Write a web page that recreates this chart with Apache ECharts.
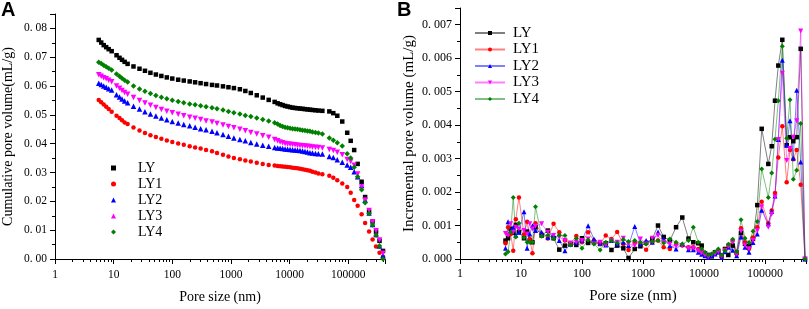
<!DOCTYPE html>
<html>
<head>
<meta charset="utf-8">
<script src="https://cdn.jsdelivr.net/npm/echarts@6/dist/echarts.min.js"></script>
<style>
  html, body { margin: 0; padding: 0; background: #fff; }
  #chart { width: 809px; height: 309px; }
</style>
</head>
<body>
<div id="chart"></div>
<script>
const seriesNames = ['LY', 'LY1', 'LY2', 'LY3', 'LY4'];

// panel A: cumulative pore volume (mL/g) against pore size (nm)
const poreSizeA = [5.57, 6.14, 6.77, 7.46, 8.23, 9.25, 11.2, 12.6, 13.9, 15.4, 17.3,
  21.8, 27.6, 34.2, 42.4, 52.5, 65.1, 80.7, 100, 126, 157, 198, 245, 304, 377, 476, 579, 732, 907,
  1124, 1421, 1761, 2183, 2759, 3486, 4406, 5569,
  6261, 6902, 7609, 8389, 9250, 10197, 11242, 12395, 13664, 15066, 16610, 18313, 20190, 22260, 24542, 27588, 31010, 36254,
  47643, 55686, 65111, 79129,
  96180, 110274, 126400, 144879, 169376, 194133, 226985, 260255, 298319, 341958, 391935];

const cumLY = [0.0760, 0.0751, 0.0742, 0.0735, 0.0728, 0.0721,
  0.0707, 0.0698, 0.0691, 0.0684, 0.0677,
  0.0668, 0.0660, 0.0653, 0.0646, 0.0640, 0.0635, 0.0630, 0.0626, 0.0622, 0.0619, 0.0616, 0.0613, 0.0610,
  0.0607, 0.0604, 0.0602, 0.0599, 0.0596, 0.0593, 0.0589, 0.0583, 0.0576, 0.0568, 0.0560, 0.0552, 0.0545,
  0.0540, 0.0537, 0.0534, 0.0531, 0.0529, 0.0527, 0.0525, 0.0524, 0.0523, 0.0522, 0.0521, 0.0520, 0.0519,
  0.0518, 0.0517, 0.0516, 0.0515, 0.0514,
  0.0512, 0.0506, 0.0497, 0.0477,
  0.0438, 0.0410, 0.0378, 0.0330, 0.0268, 0.0215, 0.0165, 0.0130, 0.0095, 0.0063, 0.0028];

const cumLY1 = [0.0552, 0.0544, 0.0536, 0.0528, 0.0520, 0.0511,
  0.0497, 0.0489, 0.0481, 0.0474, 0.0468,
  0.0456, 0.0446, 0.0437, 0.0429, 0.0423, 0.0417, 0.0411, 0.0406, 0.0401, 0.0396, 0.0391, 0.0387, 0.0383,
  0.0378, 0.0374, 0.0368, 0.0362, 0.0356, 0.0350, 0.0346, 0.0342, 0.0338, 0.0334, 0.0330, 0.0326, 0.0324,
  0.0323, 0.0322, 0.0321, 0.0320, 0.0319, 0.0318, 0.0317, 0.0316, 0.0315, 0.0313, 0.0311, 0.0310, 0.0308,
  0.0306, 0.0303, 0.0300, 0.0297, 0.0294,
  0.0289, 0.0282, 0.0273, 0.0262,
  0.0250, 0.0230, 0.0205, 0.0185, 0.0155, 0.0125, 0.0095, 0.0068, 0.0043, 0.0022, 0.0008];

const cumLY2 = [0.0610, 0.0605, 0.0600, 0.0596, 0.0591, 0.0586,
  0.0570, 0.0562, 0.0555, 0.0548, 0.0542,
  0.0530, 0.0520, 0.0511, 0.0503, 0.0496, 0.0489, 0.0483, 0.0477, 0.0472, 0.0467, 0.0462, 0.0457, 0.0452,
  0.0448, 0.0443, 0.0438, 0.0432, 0.0426, 0.0420, 0.0415, 0.0410, 0.0404, 0.0399, 0.0395, 0.0391, 0.0387,
  0.0385, 0.0384, 0.0383, 0.0382, 0.0381, 0.0380, 0.0379, 0.0378, 0.0377, 0.0376, 0.0375, 0.0373, 0.0371,
  0.0369, 0.0368, 0.0366, 0.0365, 0.0364,
  0.0356, 0.0352, 0.0344, 0.0336,
  0.0326, 0.0318, 0.0303, 0.0285, 0.0255, 0.0205, 0.0160, 0.0120, 0.0085, 0.0045, 0.0012];

const cumLY3 = [0.0639, 0.0634, 0.0629, 0.0625, 0.0620, 0.0615,
  0.0600, 0.0592, 0.0585, 0.0578, 0.0572,
  0.0560, 0.0550, 0.0541, 0.0533, 0.0526, 0.0519, 0.0513, 0.0507, 0.0502, 0.0497, 0.0492, 0.0488, 0.0484,
  0.0479, 0.0475, 0.0470, 0.0465, 0.0460, 0.0455, 0.0450, 0.0445, 0.0439, 0.0434, 0.0428, 0.0422, 0.0415,
  0.0410, 0.0406, 0.0403, 0.0401, 0.0399, 0.0398, 0.0397, 0.0396, 0.0395, 0.0394, 0.0393, 0.0392, 0.0391,
  0.0390, 0.0389, 0.0388, 0.0387, 0.0385,
  0.0380, 0.0376, 0.0370, 0.0362,
  0.0345, 0.0338, 0.0325, 0.0295, 0.0250, 0.0205, 0.0168, 0.0128, 0.0098, 0.0066, 0.0020];

const cumLY4 = [0.0683, 0.0678, 0.0672, 0.0667, 0.0662, 0.0656,
  0.0642, 0.0634, 0.0627, 0.0620, 0.0614,
  0.0600, 0.0590, 0.0582, 0.0574, 0.0567, 0.0561, 0.0556, 0.0551, 0.0546, 0.0542, 0.0538, 0.0535, 0.0532,
  0.0528, 0.0525, 0.0521, 0.0517, 0.0512, 0.0507, 0.0503, 0.0498, 0.0494, 0.0489, 0.0484, 0.0479, 0.0473,
  0.0468, 0.0463, 0.0460, 0.0457, 0.0455, 0.0454, 0.0452, 0.0451, 0.0450, 0.0448, 0.0447, 0.0446, 0.0444,
  0.0443, 0.0441, 0.0439, 0.0437, 0.0434,
  0.0420, 0.0412, 0.0403, 0.0392,
  0.0365, 0.0350, 0.0318, 0.0285, 0.0240, 0.0195, 0.0158, 0.0118, 0.0082, 0.0045, 0.0000];

// panel B: incremental pore volume (mL/g) against pore size (nm)
const poreSizeB = [5.57, 6.14, 6.77, 7.46, 8.23, 9.25, 11.2, 12.6, 13.9, 15.4, 17.3,
  21.8, 27.6, 34.2, 42.4, 52.5, 65.1, 80.7, 100, 126, 157, 198, 245, 304, 377, 476, 579, 732, 907,
  1124, 1421, 1761, 2183, 2759, 3486, 4406, 5569,
  6677, 8065, 9170, 10385, 11763, 13374, 15149, 17160, 19509, 22095, 25025, 29546, 34366,
  40430, 46990, 54660, 63580, 74790, 88300, 113270, 128780, 145880, 165200, 192130, 226830,
  256860, 291010, 330910, 384730, 452700];

const incLY = [0.00055, 0.00062, 0.00090, 0.00078, 0.00102, 0.00080, 0.00062, 0.00082, 0.00055, 0.00050, 0.00095,
  0.00070, 0.00085, 0.00062, 0.00028, 0.00040, 0.00044, 0.00042, 0.00062, 0.00048, 0.00050, 0.00045, 0.00047,
  0.00027, 0.00040, 0.00032, 0.00003, 0.00030, 0.00038, 0.00048, 0.00060, 0.00100, 0.00066, 0.00055, 0.00095,
  0.00124, 0.00061,
  0.00050, 0.00047, 0.00040, 0.00017, 0.00012, 0.00008, 0.00020, 0.00022, 0.00010, 0.00030, 0.00012, 0.00040, 0.00019,
  0.00078, 0.00045, 0.00038, 0.00060, 0.00161, 0.00389, 0.00284, 0.00337, 0.00473, 0.00578, 0.00655, 0.00340,
  0.00364, 0.00352, 0.00364, 0.00628, 0];

const incLY1 = [0.00047, 0.00095, 0.00075, 0.00025, 0.00119, 0.00184, 0.00073, 0.00111, 0.00060, 0.00017, 0.00107,
  0.00075, 0.00061, 0.00105, 0.00080, 0.00055, 0.00045, 0.00069, 0.00050, 0.00080, 0.00055, 0.00045, 0.00070,
  0.00060, 0.00081, 0.00045, 0.00027, 0.00050, 0.00045, 0.00028, 0.00050, 0.00055, 0.00035, 0.00030, 0.00045,
  0.00040, 0.00035,
  0.00035, 0.00030, 0.00022, 0.00015, 0.00008, 0.00012, 0.00018, 0.00025, 0.00006, 0.00028, 0.00040, 0.00055, 0.00015,
  0.00092, 0.00050, 0.00031, 0.00064, 0.00095, 0.00171, 0.00107, 0.00145, 0.00197, 0.00303, 0.00397, 0.00229,
  0.00326, 0.00298, 0.00326, 0.00222, 0];

const incLY2 = [0.00032, 0.00111, 0.00085, 0.00095, 0.00071, 0.00080, 0.00141, 0.00032, 0.00075, 0.00099, 0.00085,
  0.00080, 0.00065, 0.00072, 0.00055, 0.00025, 0.00045, 0.00050, 0.00055, 0.00099, 0.00060, 0.00048, 0.00042,
  0.00055, 0.00045, 0.00050, 0.00040, 0.00097, 0.00045, 0.00055, 0.00050, 0.00081, 0.00060, 0.00040, 0.00030,
  0.00045, 0.00028,
  0.00028, 0.00020, 0.00014, 0.00010, 0.00005, 0.00010, 0.00015, 0.00020, 0.00005, 0.00022, 0.00035, 0.00026, 0.00010,
  0.00066, 0.00035, 0.00020, 0.00049, 0.00075, 0.00146, 0.00105, 0.00142, 0.00188, 0.00357, 0.00594, 0.00340,
  0.00413, 0.00301, 0.00504, 0.00290, 0];

const incLY3 = [0.00076, 0.00070, 0.00105, 0.00080, 0.00095, 0.00090, 0.00085, 0.00075, 0.00105, 0.00090, 0.00098,
  0.00105, 0.00080, 0.00070, 0.00065, 0.00055, 0.00048, 0.00050, 0.00055, 0.00060, 0.00045, 0.00050, 0.00042,
  0.00055, 0.00050, 0.00062, 0.00045, 0.00040, 0.00060, 0.00045, 0.00062, 0.00070, 0.00050, 0.00045, 0.00038,
  0.00040, 0.00032,
  0.00032, 0.00025, 0.00018, 0.00012, 0.00006, 0.00012, 0.00016, 0.00022, 0.00008, 0.00025, 0.00038, 0.00050, 0.00015,
  0.00083, 0.00040, 0.00031, 0.00055, 0.00085, 0.00156, 0.00095, 0.00134, 0.00185, 0.00357, 0.00555, 0.00294,
  0.00330, 0.00364, 0.00413, 0.00681, 0];

const incLY4 = [0.00015, 0.00022, 0.00080, 0.00184, 0.00066, 0.00107, 0.00064, 0.00050, 0.00050, 0.00051, 0.00156,
  0.00068, 0.00071, 0.00061, 0.00071, 0.00070, 0.00042, 0.00061, 0.00032, 0.00057, 0.00045, 0.00027, 0.00050,
  0.00055, 0.00048, 0.00058, 0.00052, 0.00055, 0.00050, 0.00045, 0.00052, 0.00055, 0.00048, 0.00060, 0.00050,
  0.00045, 0.00055,
  0.00095, 0.00050, 0.00030, 0.00020, 0.00012, 0.00015, 0.00022, 0.00030, 0.00012, 0.00025, 0.00044, 0.00059, 0.00022,
  0.00117, 0.00062, 0.00049, 0.00083, 0.00112, 0.00269, 0.00184, 0.00257, 0.00358, 0.00473, 0.00636, 0.00361,
  0.00476, 0.00238, 0.00265, 0.00405, 0];

const colors = ['#000000', '#ff0000', '#0000ff', '#ff00ff', '#008000'];
const symbols = ['rect', 'circle', 'triangle', 'triangle', 'diamond'];
const symbolRotates = [0, 0, 0, 180, 0];
const symbolSizesA = [4.5, 4.5, 5.5, 5.5, 5.5];
const symbolSizesB = [4.5, 4.5, 5, 5, 5];

const cumA = [cumLY, cumLY1, cumLY2, cumLY3, cumLY4];
const incB = [incLY, incLY1, incLY2, incLY3, incLY4];

const serif = 'Liberation Serif';
const zip = (xs, ys) => xs.map((x, i) => [x, ys[i]]);

// log axis: only label the powers of ten
const logLabel = v => {
  const l = Math.log10(v);
  return Math.abs(l - Math.round(l)) < 1e-6 ? String(Math.round(v)) : '';
};
// "0. 05" style labels, top (max) value left blank
const yLabel = (digits, top) => v => (v > top + 1e-9 ? '' : v.toFixed(digits).replace('.', '. '));

function logXAxis(gridIndex, max, labelSize, nameSize, margin, nameGap) {
  return {
    type: 'log',
    logBase: 10,
    gridIndex: gridIndex,
    min: 1,
    max: max,
    name: 'Pore size (nm)',
    nameLocation: 'middle',
    nameGap: nameGap,
    nameTextStyle: { fontFamily: serif, fontSize: nameSize, color: '#000' },
    axisLine: { show: true, lineStyle: { color: '#000', width: 1 } },
    axisTick: { show: true, length: 5, lineStyle: { color: '#000' } },
    minorTick: { show: true, splitNumber: 9, length: 3, lineStyle: { color: '#000' } },
    axisLabel: { fontFamily: serif, fontSize: labelSize, color: '#000', margin: margin, formatter: logLabel },
    splitLine: { show: false }
  };
}

function valueYAxis(gridIndex, max, interval, digits, top, name, labelSize, nameSize, nameGap) {
  return {
    type: 'value',
    gridIndex: gridIndex,
    min: 0,
    max: max,
    interval: interval,
    name: name,
    nameLocation: 'middle',
    nameGap: nameGap,
    nameTextStyle: { fontFamily: serif, fontSize: nameSize, color: '#000' },
    axisLine: { show: true, lineStyle: { color: '#000', width: 1 } },
    axisTick: { show: true, length: 5, lineStyle: { color: '#000' } },
    minorTick: { show: true, splitNumber: 2, length: 3, lineStyle: { color: '#000' } },
    axisLabel: { fontFamily: serif, fontSize: labelSize, color: '#000', margin: 8, formatter: yLabel(digits, top) },
    splitLine: { show: false }
  };
}

const seriesA = seriesNames.map((n, i) => ({
  name: 'A:' + n,
  type: 'scatter',
  xAxisIndex: 0,
  yAxisIndex: 0,
  symbol: symbols[i],
  symbolRotate: symbolRotates[i],
  symbolSize: symbolSizesA[i],
  itemStyle: { color: colors[i], opacity: 1 },
  data: zip(poreSizeA, cumA[i])
}));

const seriesB = seriesNames.map((n, i) => ({
  name: 'B:' + n,
  type: 'line',
  xAxisIndex: 1,
  yAxisIndex: 1,
  symbol: symbols[i],
  symbolRotate: symbolRotates[i],
  symbolSize: symbolSizesB[i],
  showAllSymbol: true,
  itemStyle: { color: colors[i] },
  lineStyle: { color: colors[i], width: 1, opacity: 0.5 },
  data: zip(poreSizeB, incB[i])
}));

const chart = echarts.init(document.getElementById('chart'), null, { renderer: 'canvas' });

const option = {
  animation: false,
  backgroundColor: '#fff',
  title: [
    { text: 'A', left: 1, top: 0, padding: 0, textStyle: { fontFamily: 'Liberation Sans', fontWeight: 'bold', fontSize: 20, color: '#000' } },
    { text: 'B', left: 397, top: 0, padding: 0, textStyle: { fontFamily: 'Liberation Sans', fontWeight: 'bold', fontSize: 20, color: '#000' } }
  ],
  grid: [
    { left: 53, top: 14, width: 332, height: 245 },
    { left: 460, top: 8, width: 346, height: 258 }
  ],
  legend: [
    {
      data: seriesNames.map(n => 'A:' + n),
      orient: 'vertical',
      left: 111,
      top: 160,
      padding: 0,
      itemWidth: 5,
      itemHeight: 5,
      itemGap: 0,
      symbolKeepAspect: true,
      selectedMode: false,
      formatter: n => n.slice(2),
      textStyle: { fontFamily: serif, fontSize: 14, color: '#000', lineHeight: 16, padding: [0, 0, 0, 17] }
    },
    {
      data: seriesNames.map(n => 'B:' + n),
      orient: 'vertical',
      left: 474,
      top: 25,
      padding: 0,
      itemWidth: 30,
      itemHeight: 5,
      itemGap: 0.5,
      selectedMode: false,
      formatter: n => n.slice(2),
      textStyle: { fontFamily: serif, fontSize: 15, color: '#000', lineHeight: 16, padding: [0, 0, 0, 3] }
    }
  ],
  xAxis: [
    logXAxis(0, 424000, 11.5, 14, 10, 31),
    logXAxis(1, 470000, 12, 15, 9, 30)
  ],
  yAxis: [
    valueYAxis(0, 0.085, 0.01, 2, 0.08, 'Cumulative pore volume(mL/g)', 11.5, 14, 40),
    valueYAxis(1, 0.0075, 0.001, 3, 0.007, 'Incremental pore volume (mL/g)', 12, 15, 43)
  ],
  series: seriesA.concat(seriesB)
};

chart.setOption(option);
window.addEventListener('resize', () => chart.resize());
</script>
</body>
</html>
